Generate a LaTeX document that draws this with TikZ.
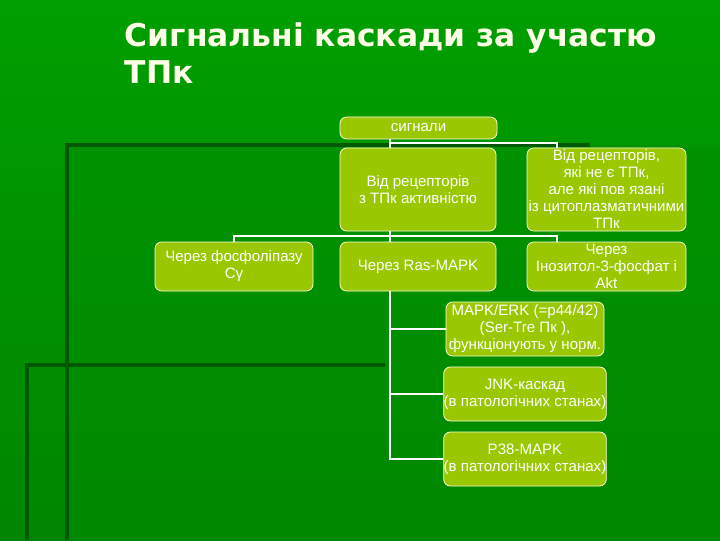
\documentclass[tikz,border=0pt]{standalone}
\usepackage{fontspec}
\setmainfont{Liberation Sans}
\newfontfamily\titlefont{DejaVu Sans}
\begin{document}
\begin{tikzpicture}[x=0.75pt,y=-0.75pt,
  box/.style={draw=white!85!yellow,line width=0.6pt,rounded corners=5pt,text=white,font=\fontsize{11.3}{12.75}\selectfont,align=center,inner sep=0pt},
  conn/.style={draw=white,line width=1.2pt},
  deco/.style={draw=green!35!black,line width=2.5pt}]
\definecolor{boxc}{RGB}{153,200,0}
\tikzset{box/.append style={fill=boxc}}
\shade[left color=green!85!black,right color=green!45!black,shading angle=0] (0,0) rectangle (720,540);
\shade[top color=green!40!black,bottom color=green!60!black,opacity=0.5] (0,0) rectangle (720,540);
\fill[green!55!black,opacity=0.4] (67,145) rectangle (720,540);
\draw[deco] (65,145) -- (590,145);
\draw[deco] (67,145) -- (67,540);
\draw[deco] (25,365) -- (385,365);
\draw[deco] (27,365) -- (27,540);
\node[anchor=west,text=white!90!yellow,font=\titlefont\bfseries\fontsize{23.5}{28}\selectfont,align=left] (title) at (120,53) {Сигнальні каскади за участю\\ТПк};
\node[box,minimum width=117.75pt,minimum height=16.5pt] (s) at (418.5,128) {сигнали};
\node[box,minimum width=117pt,minimum height=62.25pt] (a) at (418,189.5) {Від рецепторів\\з ТПк активністю};
\node[box,minimum width=119.25pt,minimum height=62.25pt] (b) at (606.5,189.5) {Від рецепторів,\\які не є ТПк,\\але які пов язані\\із цитоплазматичними\\ТПк};
\node[box,minimum width=118.5pt,minimum height=36.75pt] (c) at (234,266.5) {Через фосфоліпазу\\Сγ};
\node[box,minimum width=117pt,minimum height=36.75pt] (d) at (418,266.5) {Через Ras-MAPK};
\node[box,minimum width=119.25pt,minimum height=36.75pt] (e) at (606.5,266.5) {Через\\Інозитол-3-фосфат і\\Akt};
\node[box,minimum width=118.5pt,minimum height=40.5pt] (f) at (525,329) {MAPK/ERK (=p44/42)\\(Ser-Tre Пк ),\\функціонують у норм.};
\node[box,minimum width=118.5pt,minimum height=40.5pt] (g) at (525,394) {JNK-каскад\\(в патологічних станах)};
\node[box,minimum width=118.5pt,minimum height=40.5pt] (h) at (525,459) {P38-MAPK\\(в патологічних станах)};
\draw[conn] (s.south -| 390,0) -- (390,143) -| (b.north -| 557,0);
\draw[conn] (390,143) -- (a.north -| 390,0);
\draw[conn] (a.south -| 390,0) -- (390,236) -| (c.north);
\draw[conn] (390,236) -- (d.north -| 390,0);
\draw[conn] (390,236) -| (e.north -| 557,0);
\draw[conn] (d.south -| 390,0) -- (390,459) -- (h.west);
\draw[conn] (390,329) -- (f.west);
\draw[conn] (390,394) -- (g.west);
\end{tikzpicture}
\end{document}
